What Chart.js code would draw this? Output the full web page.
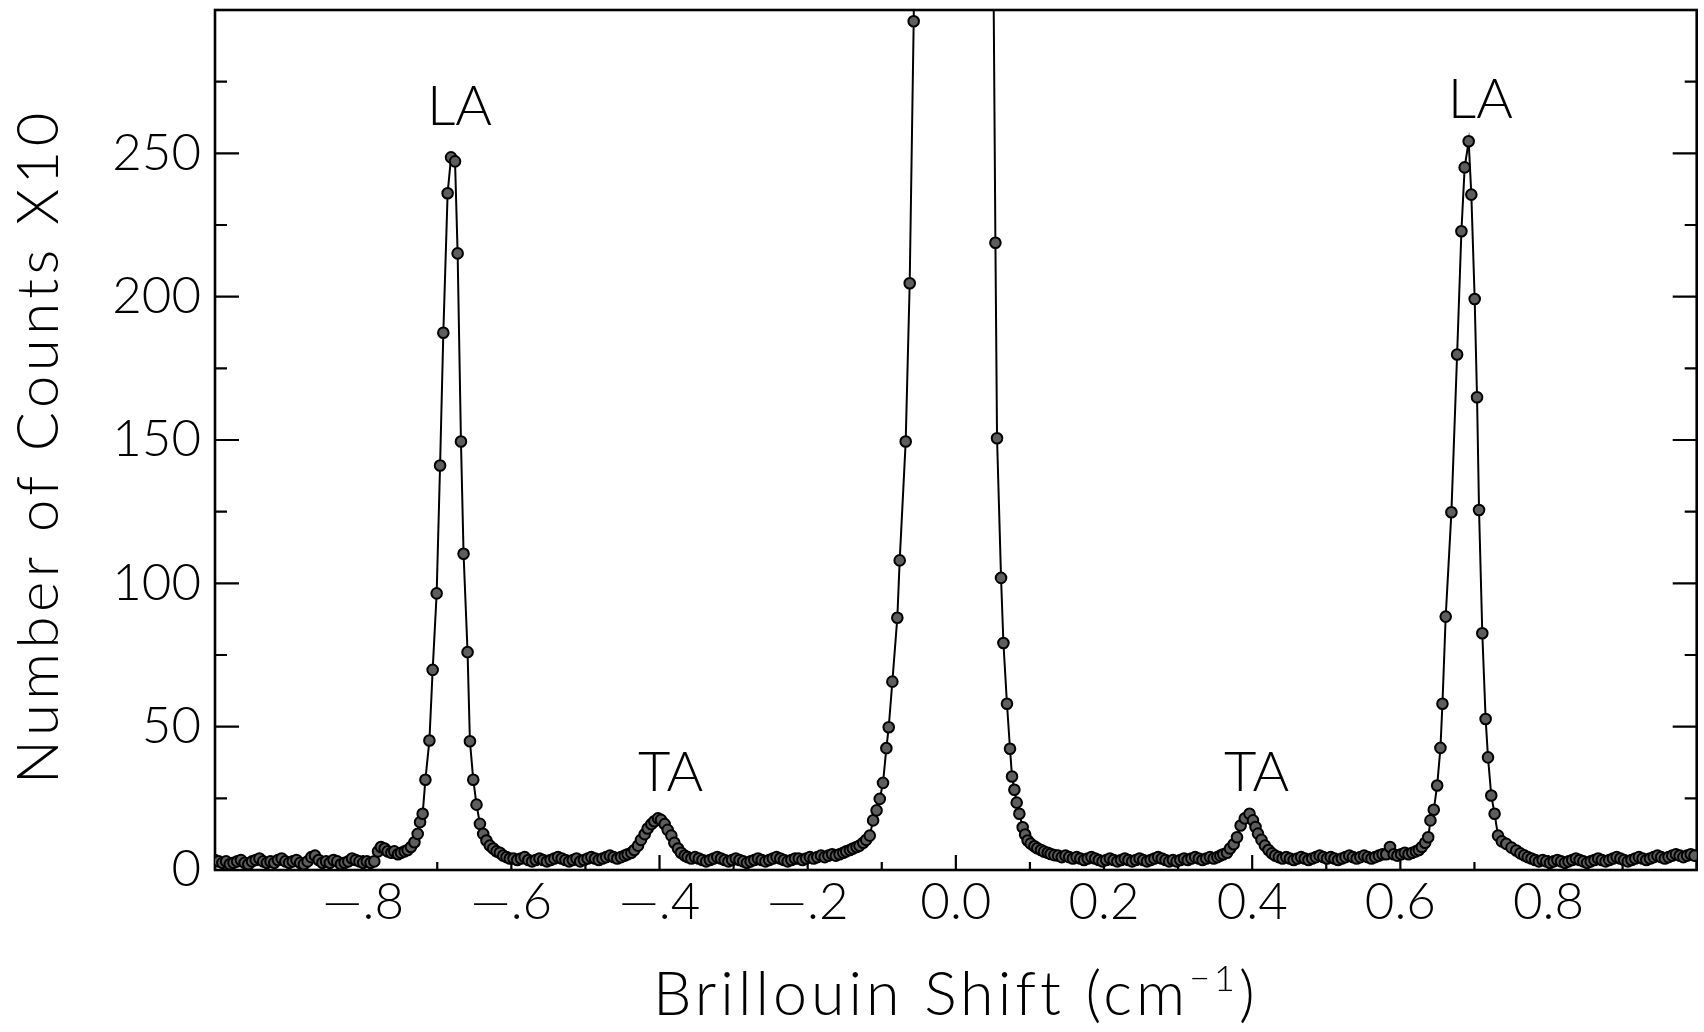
<!DOCTYPE html>
<html>
<head>
<meta charset="utf-8">
<title>Brillouin spectrum</title>
<script src="https://cdn.jsdelivr.net/npm/chart.js@4.4.1/dist/chart.umd.min.js"></script>
<style>
  html, body { margin: 0; padding: 0; background: #fff; }
  #wrap { width: 1704px; height: 1032px; }
</style>
</head>
<body>
<div id="wrap"><canvas id="spectrum" width="1704" height="1032"></canvas></div>
<script>
// ============ DATA (Brillouin shift in cm^-1, counts x10) ============
// flat background, left edge up to the LA (anti-Stokes) line
const baseA_x = [-1.000,-0.995,-0.990,-0.985,-0.980,-0.975,-0.970,-0.965,-0.960,-0.955,
  -0.950,-0.945,-0.940,-0.935,-0.930,-0.925,-0.920,-0.915,-0.910,-0.905,
  -0.900,-0.895,-0.890,-0.885,-0.880,-0.875,-0.870,-0.865,-0.860,-0.855,
  -0.850,-0.845,-0.840,-0.835,-0.830,-0.825,-0.820,-0.815,-0.810,-0.805,
  -0.800,-0.795,-0.790,-0.785];
const baseA_y = [3.5,3,2.5,3,2,2.5,3,3.5,2.5,2,
  3,3.5,4,3,2.5,3,2.5,3.5,4,3,
  2.5,3,3.5,2.5,2,3,4.5,5,3.5,2.5,
  3,2.5,3.5,3,2,2.5,3,4,3.5,3,
  2.5,3,2.5,3];

// left LA peak
const laLeft_x = [-0.780,-0.776,-0.771,-0.767,-0.762,-0.758,-0.753,-0.749,-0.744,-0.740,
  -0.7355,-0.7308,-0.7264,-0.7232,-0.7197,-0.7160,-0.7106,-0.7062,-0.7008,-0.6962,
  -0.6918,-0.6860,-0.6814,-0.6760,-0.6725,-0.6680,-0.6645,-0.6591,-0.6559,-0.6514,
  -0.6470,-0.6424,-0.6380,-0.6336,-0.6290,-0.6245,-0.6200,-0.6155,-0.6110,-0.6065,-0.6020];
const laLeft_y = [6.5,8,7.5,6.5,6,6.5,5.5,6,6.5,7,
  8,9.7,12.6,16.7,19.6,31.5,45.2,69.8,96.5,141.1,
  187.4,236.1,248.6,247.2,215.1,149.5,110.3,76.0,44.9,31.5,
  22.8,16.1,12.6,10.3,8.5,7.5,6.5,6,5,4.5,4];

const baseB_x = [-0.597,-0.592,-0.587,-0.582,-0.577,-0.572,-0.567,-0.562,-0.557,-0.552,
  -0.547,-0.542,-0.537,-0.532,-0.527,-0.522,-0.517,-0.512,-0.507,-0.502,
  -0.497,-0.492,-0.487,-0.482,-0.477,-0.472,-0.467,-0.462,-0.457,-0.452];
const baseB_y = [4,3.5,4,4.5,3.5,3,3.5,4,3.5,3,
  3.5,4,4.5,4,3.5,3,3.5,4,3,3.5,
  4,4.5,4,3.5,4,4.5,5,4.5,4,4.5];

// left TA peak
const taLeft_x = [-0.447,-0.443,-0.438,-0.434,-0.429,-0.425,-0.420,-0.416,-0.411,-0.407,
  -0.402,-0.398,-0.393,-0.389,-0.384,-0.380,-0.375,-0.371,-0.366,-0.362];
const taLeft_y = [5,5.5,6,7,8.5,10.5,12.5,14.5,16,17,
  18,17.5,16,14,12,9.5,7.5,6,5,4.5];

const baseC_x = [-0.357,-0.352,-0.347,-0.342,-0.337,-0.332,-0.327,-0.322,-0.317,-0.312,
  -0.307,-0.302,-0.297,-0.292,-0.287,-0.282,-0.277,-0.272,-0.267,-0.262,
  -0.257,-0.252,-0.247,-0.242,-0.237,-0.232,-0.227,-0.222,-0.217,-0.212,
  -0.207,-0.202,-0.197,-0.192,-0.187,-0.182,-0.177,-0.172,-0.167,-0.162];
const baseC_y = [4,4.5,4,3.5,3,3.5,4,4.5,4,3.5,
  3,3.5,4,3.5,3,2.5,3,3.5,4,3.5,
  3,3.5,4,4.5,4,3.5,3,3.5,4,4,
  3.5,4,4.5,4,4.5,5,4.5,5,5.5,5];

// central (Rayleigh) line, goes off scale
const central_x = [-0.157,-0.152,-0.148,-0.143,-0.139,-0.134,-0.130,-0.125,-0.121,-0.1162,
  -0.1117,-0.1070,-0.1027,-0.0983,-0.0938,-0.0906,-0.0857,-0.0790,-0.0758,-0.0677,
  -0.0623,-0.0569,-0.052,
  0.0489,0.0534,0.0556,0.0610,0.0642,0.0690,0.0731,0.0758,0.0790,0.0821,
  0.0857,0.0902,0.0935,0.0969,0.101,0.106,0.110,0.115,0.119,0.124,0.128,0.133];
const central_y = [5.5,6,6.5,7,7.5,8,8.5,9.5,10.5,12.0,
  17.3,20.8,24.8,30.4,42.5,49.8,65.7,88.0,108.0,149.5,
  204.7,296.1,420,
  380,218.8,150.6,101.9,79.2,58.0,42.3,32.6,28.0,23.5,
  19.6,14.9,12.4,10.3,9.2,8.3,7.6,7.0,6.4,6.0,5.6,5.2];

const baseD_x = [0.138,0.143,0.148,0.153,0.158,0.163,0.168,0.173,0.178,0.183,
  0.188,0.193,0.198,0.203,0.208,0.213,0.218,0.223,0.228,0.233,
  0.238,0.243,0.248,0.253,0.258,0.263,0.268,0.273,0.278,0.283,
  0.288,0.293,0.298,0.303,0.308,0.313,0.318,0.323,0.328,0.333,
  0.338,0.343,0.348,0.353];
const baseD_y = [5,4.5,5,4.5,4,4.5,4,3.5,4,4.5,
  4,3.5,3,3.5,4,3.5,3,3.5,4,3.5,
  3,3.5,4,3.5,3,3.5,4,4.5,4,3.5,
  3,3.5,3,3.5,4,3.5,4,4.5,4,3.5,
  4,4.5,4,4.5];

// right TA peak
const taRight_x = [0.357,0.361,0.366,0.3701,0.375,0.3795,0.3844,0.390,0.3964,0.4011,
  0.4045,0.4078,0.4125,0.4172,0.422,0.4266,0.431,0.436];
const taRight_y = [5,5.5,6,7.5,9,11.4,15.5,18,19.6,17.3,
  15,12.7,10.5,8.5,7,5.8,5,4.5];

const baseE_x = [0.441,0.446,0.451,0.456,0.461,0.466,0.471,0.476,0.481,0.486,
  0.491,0.496,0.501,0.506,0.511,0.516,0.521,0.526,0.531,0.536,
  0.541,0.546,0.551,0.556,0.561,0.566,0.571,0.576,0.581,0.586,
  0.591,0.596,0.601,0.606,0.611,0.616];
const baseE_y = [4,4.5,4,3.5,4,4.5,4,3.5,4,4.5,
  5,4.5,4,4.5,4,3.5,4,4.5,5,4.5,
  4,4.5,5,4.5,4,4.5,5,5.5,5.5,8,
  5.5,5,5.5,6,5.5,6];

// right LA peak
const laRight_x = [0.621,0.625,0.629,0.6335,0.6376,0.6406,0.6451,0.6497,0.6541,0.6568,
  0.6612,0.6689,0.6766,0.6824,0.6868,0.6922,0.6958,0.7003,0.7035,0.7062,
  0.7106,0.7151,0.7183,0.7227,0.7272,0.7318,0.7370,0.7430,0.7500,0.7564,
  0.7620,0.7672];
const laRight_y = [6.5,7,8,9.5,11.4,17.3,21.0,29.5,42.6,58.0,
  88.4,124.8,179.8,222.8,245.1,254.2,235.6,199.2,164.9,125.6,
  82.6,52.7,39.3,26.0,19.6,12.0,10,9.1,7.8,6.8,
  5.8,5.1];

const baseF_x = [0.772,0.777,0.782,0.787,0.792,0.797,0.802,0.807,0.812,0.817,
  0.822,0.827,0.832,0.837,0.842,0.847,0.852,0.857,0.862,0.867,
  0.872,0.877,0.882,0.887,0.892,0.897,0.902,0.907,0.912,0.917,
  0.922,0.927,0.932,0.937,0.942,0.947,0.952,0.957,0.962,0.967,
  0.972,0.977,0.982,0.987,0.992,0.997];
const baseF_y = [4.5,4,3.5,3,3.5,3,2.5,3,3.5,3,
  2.5,3,3.5,4,3.5,3,2.5,3,3.5,4,
  3.5,3,3.5,4,4.5,4,3.5,3,3.5,4,
  4.5,4,3.5,4,4.5,5,4.5,4,4.5,5,
  5.5,5,4.5,5,5.5,5];

// axis ticks and labels
const xTickValues = [-0.8, -0.6, -0.4, -0.2, 0.0, 0.2, 0.4, 0.6, 0.8];
const xTickLabels = ['\u2014.8', '\u2014.6', '\u2014.4', '\u2014.2', '0.0', '0.2', '0.4', '0.6', '0.8'];
const xMajorTicks = [-1.0, -0.8, -0.6, -0.4, -0.2, 0.0, 0.2, 0.4, 0.6, 0.8, 1.0];
const xMinorTicks = [-0.9, -0.7, -0.5, -0.3, -0.1, 0.1, 0.3, 0.5, 0.7, 0.9];
const yTickValues = [0, 50, 100, 150, 200, 250];
const yTickLabels = ['0', '50', '100', '150', '200', '250'];
const yMajorTicks = [0, 50, 100, 150, 200, 250, 300];
const yMinorTicks = [25, 75, 125, 175, 225, 275];

const xTitle = 'Brillouin Shift (cm';
const xTitleSup = '\u22121';
const yTitle = 'Number of Counts X10';
const peakLabels = [
  { text: 'LA', x: -0.670, y: 260 },
  { text: 'TA', x: -0.385, y: 27.7 },
  { text: 'TA', x: 0.406, y: 27.4 },
  { text: 'LA', x: 0.708, y: 262.5 }
];

// ============ BUILD SERIES ============
const segments = [
  [baseA_x, baseA_y], [laLeft_x, laLeft_y], [baseB_x, baseB_y], [taLeft_x, taLeft_y],
  [baseC_x, baseC_y], [central_x, central_y], [baseD_x, baseD_y], [taRight_x, taRight_y],
  [baseE_x, baseE_y], [laRight_x, laRight_y], [baseF_x, baseF_y]
];
const points = segments.flatMap(([xs, ys]) => xs.map((x, i) => ({ x, y: ys[i] })));

// ============ DRAWING ============
const FONT = "Lato, 'DejaVu Sans', sans-serif";
const tickFont = { family: FONT, size: 51, weight: 300 };

const framePlugin = {
  id: 'frame',
  beforeDatasetsDraw(chart) {
    const { ctx, chartArea: a, scales: { x, y } } = chart;
    ctx.save();
    ctx.strokeStyle = '#000';
    ctx.lineWidth = 2.6;
    ctx.strokeRect(a.left, a.top, a.right - a.left, a.bottom - a.top);
    ctx.lineWidth = 2.2;
    ctx.beginPath();
    const seg = (x1, y1, x2, y2) => { ctx.moveTo(x1, y1); ctx.lineTo(x2, y2); };
    yMajorTicks.forEach(v => {
      const py = y.getPixelForValue(v);
      seg(a.left, py, a.left + 24, py);
      seg(a.right, py, a.right - 24, py);
    });
    yMinorTicks.forEach(v => {
      const py = y.getPixelForValue(v);
      seg(a.left, py, a.left + 12, py);
      seg(a.right, py, a.right - 12, py);
    });
    xMajorTicks.forEach(v => { const px = x.getPixelForValue(v); seg(px, a.bottom, px, a.bottom - 15); });
    xMinorTicks.forEach(v => { const px = x.getPixelForValue(v); seg(px, a.bottom, px, a.bottom - 8); });
    ctx.stroke();
    ctx.restore();
  },
  afterDraw(chart) {
    const { ctx, chartArea: a, scales: { x, y } } = chart;
    ctx.save();
    ctx.fillStyle = '#000';

    // peak names
    ctx.font = `300 56px ${FONT}`;
    ctx.textAlign = 'center';
    ctx.textBaseline = 'alphabetic';
    peakLabels.forEach(l => ctx.fillText(l.text, x.getPixelForValue(l.x), y.getPixelForValue(l.y)));

    // y title
    ctx.save();
    ctx.translate(39, (a.top + a.bottom) / 2 + 6);
    ctx.rotate(-Math.PI / 2);
    ctx.font = `300 58px ${FONT}`;
    ctx.letterSpacing = '4.5px';
    ctx.textBaseline = 'middle';
    ctx.textAlign = 'center';
    ctx.fillText(yTitle, 0, 0);
    ctx.restore();

    // x title with superscript
    ctx.letterSpacing = '4px';
    ctx.textAlign = 'left';
    const mainFont = `300 61px ${FONT}`;
    const supFont = `300 36px ${FONT}`;
    ctx.font = mainFont;
    const w1 = ctx.measureText(xTitle).width;
    const w3 = ctx.measureText(')').width;
    ctx.font = supFont;
    const w2 = ctx.measureText(xTitleSup).width;
    let px = (a.left + a.right) / 2 - (w1 + w2 + w3) / 2;
    const base = 1015;
    ctx.font = mainFont;
    ctx.fillText(xTitle, px, base);
    px += w1;
    ctx.font = supFont;
    ctx.fillText(xTitleSup, px, base - 24);
    px += w2;
    ctx.font = mainFont;
    ctx.fillText(')', px, base);
    ctx.restore();
  }
};

new Chart(document.getElementById('spectrum'), {
  type: 'line',
  data: {
    datasets: [{
      data: points,
      borderColor: '#000',
      borderWidth: 2,
      pointRadius: 5.3,
      pointBorderWidth: 2,
      pointBorderColor: '#000',
      pointBackgroundColor: '#5e5e5e',
      tension: 0
    }]
  },
  options: {
    responsive: false,
    animation: false,
    devicePixelRatio: 1,
    events: [],
    layout: { padding: { top: 10, right: 3, left: 0, bottom: 0 } },
    plugins: { legend: { display: false }, tooltip: { enabled: false } },
    scales: {
      x: {
        type: 'linear', min: -1, max: 1,
        grid: { display: false, drawTicks: false },
        border: { display: false },
        afterBuildTicks: s => { s.ticks = xTickValues.map(v => ({ value: v })); },
        afterFit: s => { s.height = 162; s.paddingLeft = 0; s.paddingRight = 0; },
        ticks: { autoSkip: false, maxRotation: 0, padding: 2, color: '#000', font: tickFont,
                 callback: (v, i) => xTickLabels[i] }
      },
      y: {
        min: 0, max: 300,
        grid: { display: false, drawTicks: false },
        border: { display: false },
        afterBuildTicks: s => { s.ticks = yTickValues.map(v => ({ value: v })); },
        afterFit: s => { s.width = 215; s.paddingTop = 0; s.paddingBottom = 0; },
        ticks: { autoSkip: false, padding: 14, color: '#000', font: tickFont,
                 callback: (v, i) => yTickLabels[i] }
      }
    }
  },
  plugins: [framePlugin]
});
</script>
</body>
</html>
